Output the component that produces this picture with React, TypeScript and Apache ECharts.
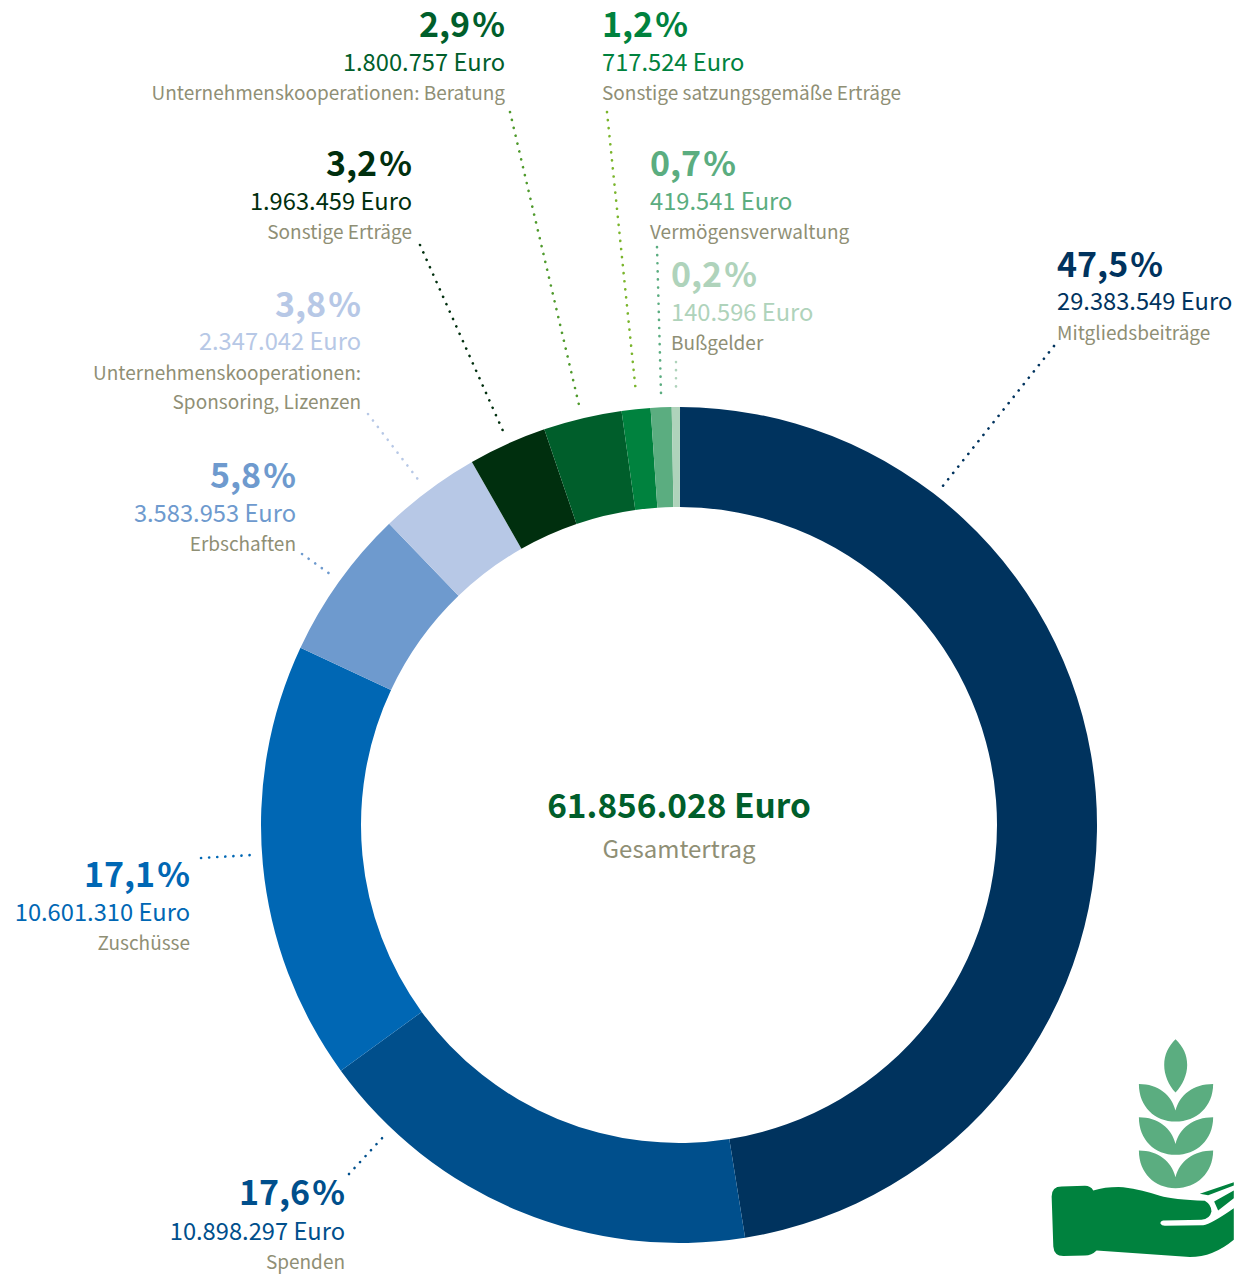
import React, { useEffect, useRef } from "react";
import * as echarts from "echarts";

const categories = ["Mitgliedsbeiträge","Spenden","Zuschüsse","Erbschaften","Unternehmenskooperationen:\nSponsoring, Lizenzen","Sonstige Erträge","Unternehmenskooperationen: Beratung","Sonstige satzungsgemäße Erträge","Vermögensverwaltung","Bußgelder"];
// Slice sizes as drawn in the picture, in degrees of the ring (they depart slightly from the printed percentages).
const sliceDegrees = [170.76,63.1,61.1,21.0,14.2,10.9,10.9,4.0,2.9,1.14];
const percents = ["47,5","17,6","17,1","5,8","3,8","3,2","2,9","1,2","0,7","0,2"];
const amounts = ["29.383.549","10.898.297","10.601.310","3.583.953","2.347.042","1.963.459","1.800.757","717.524","419.541","140.596"];
const colors = ["#00335e","#004f8c","#0067b4","#6e9ace","#b7c8e6","#002f0e","#005e2b","#00823e","#5bad80","#afd3bb"];
const lineColors = ["#00335e","#004f8c","#0067b4","#6e9ace","#b7c8e6","#002f0e","#4f9a2c","#7ab52c","#5bad80","#afd3bb"];
const totalLabel = "61.856.028 Euro";
const totalCaption = "Gesamtertrag";

// label layout: anchor x, alignment, y centres of percent / amount / caption
const labelLayout: [number, "left" | "right", number, number, number][] = [
  [1057,"left",262,300,331],
  [345,"right",1190,1230,1260],
  [190,"right",872,911,941],
  [296,"right",473,512,542],
  [361,"right",302,340,371],
  [412,"right",161,200,230],
  [505,"right",22,61,91],
  [602,"left",22,61,91],
  [650,"left",161,200,230],
  [671,"left",272,311,341],
];
const leaderLayout = [
  [1054,346,942,487],[349,1174,385,1135],[201,858,252,855],[302,554,330,574],[368,414,420,482],
  [420,245,503,431],[510,112,579,405],[607,112,636,393],[657,247,661,393],[676,362,676,389],
];

const FONT = '"Noto Sans CJK SC", "Noto Sans", sans-serif';
const GREY = "#8f8f75";
const leafPath = (o: number) => `M327 ${192+o}C385 ${192+o} 425 ${225+o} 437 ${272+o}C449 ${225+o} 490 ${192+o} 550 ${192+o}C550 ${260+o} 500 ${305+o} 437 ${305+o}C375 ${305+o} 327 ${260+o} 327 ${192+o}Z`;
const plantPath = "M437 58C460 80 472 105 472 135C472 165 458 195 437 218C416 195 403 165 403 135C403 105 415 80 437 58Z" + leafPath(0) + leafPath(100) + leafPath(200);
const handPath = "M65 530Q65 500 95 500L165 498Q182 498 190 512Q230 500 280 502Q340 510 390 528Q430 540 525 543Q545 555 545 575Q540 598 515 600L400 602Q390 605 392 612Q395 618 405 618L520 616Q545 612 612 565L612 660Q550 712 480 712L200 692Q185 707 165 707L100 709Q72 708 70 680ZM510 522L612 487L612 497L535 526ZM553 545L612 512L612 535L565 572Z";
echarts.graphic.registerShape("plantIcon", echarts.graphic.extendPath(plantPath, {}));
echarts.graphic.registerShape("handIcon", echarts.graphic.extendPath(handPath, {}));

function text(x: number, y: number, t: string, size: number, fill: string, align: string, weight = 400) {
  return { type: "text", x, y, silent: true, style: { text: t, fontFamily: FONT, fontSize: size, fontWeight: weight, fill, align, verticalAlign: "middle" } };
}

export default function App() {
  const ref = useRef<HTMLDivElement>(null);
  useEffect(() => {
    document.body.style.margin = "0";
    const chart = echarts.init(ref.current!, undefined, { renderer: "svg" });
    const graphics: any[] = [];
    categories.forEach((c, i) => {
      const [x, align, y1, y2, y3] = labelLayout[i];
      graphics.push(text(x, y1, `${percents[i]}\u200A%`, 34, colors[i], align, 700));
      graphics.push(text(x, y2, `${amounts[i]} Euro`, 23.7, colors[i], align));
      const lines = c.split("\n");
      lines.forEach((l, k) => graphics.push(text(x, y3 + k * 29, l, 19, GREY, align)));
      const [x1, y11, x2, y22] = leaderLayout[i];
      graphics.push({ type: "line", silent: true, shape: { x1, y1: y11, x2, y2: y22 }, style: { stroke: lineColors[i], lineWidth: 2.6, lineDash: [0.1, 8], lineCap: "round" } });
    });
    graphics.push(text(679, 803, totalLabel, 33.4, "#005e2b", "center", 700));
    graphics.push(text(679, 847, totalCaption, 24, GREY, "center"));
    graphics.push({ type: "plantIcon", x: 1030, y: 1020, scaleX: 1/3, scaleY: 1/3, silent: true, style: { fill: "#5bad80" } });
    graphics.push({ type: "handIcon", x: 1030, y: 1020, scaleX: 1/3, scaleY: 1/3, silent: true, style: { fill: "#00823e" } });
    chart.setOption({
      animation: false,
      backgroundColor: "#ffffff",
      series: [{
        type: "pie", center: [679, 825], radius: [318, 418], startAngle: 89.86, clockwise: true, silent: true,
        label: { show: false }, labelLine: { show: false },
        data: categories.map((name, i) => ({ name: name.replace("\n", " "), value: sliceDegrees[i], itemStyle: { color: colors[i] } })),
      }],
      graphic: { elements: graphics },
    });
    return () => chart.dispose();
  }, []);
  return <div ref={ref} style={{ position: "absolute", left: 0, top: 0, width: 1234, height: 1275 }} />;
}
